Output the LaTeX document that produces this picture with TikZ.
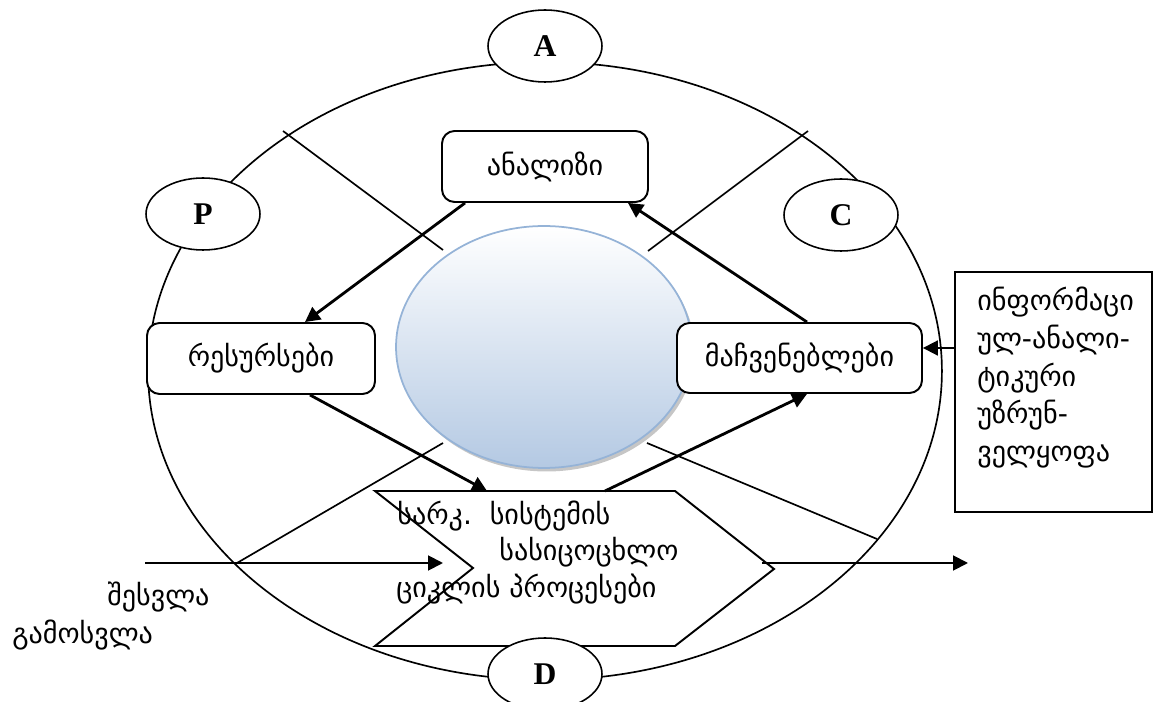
\documentclass[tikz,border=0pt]{standalone}
\usepackage{fontspec}
\setmainfont{Liberation Serif}
\newfontfamily\geo{DejaVu Sans}
\usetikzlibrary{arrows.meta, shapes.geometric, shadows}

\definecolor{coreedge}{RGB}{149,179,215}
\definecolor{corefill}{RGB}{180,201,227}

\begin{document}
\begin{tikzpicture}[x=0.02cm, y=-0.02cm,
        lbl/.style={ellipse, draw, line width=0.9pt, fill=white, minimum width=2.28cm,
                    minimum height=1.44cm, inner sep=0pt, font=\fontsize{18}{18}\selectfont\bfseries},
        procbox/.style={rectangle, rounded corners=0.25cm, draw, line width=1.1pt, fill=white,
                    minimum height=1.42cm, font=\geo\fontsize{16}{20}\selectfont},
        txt/.style={font=\geo\fontsize{16}{21.4}\selectfont, inner sep=0pt, anchor=base west},
        flow/.style={line width=1.6pt, -{Triangle[length=8.5pt, width=8.5pt]}},
        feed/.style={line width=1.1pt, -{Triangle[length=8.5pt, width=8.5pt]}},
        xline/.style={line width=0.95pt}]
      \useasboundingbox (0,0) rectangle (1154,702);

      % outer cycle and the cross behind the core
      \draw[line width=0.95pt] (545,371) ellipse [x radius=7.94cm, y radius=6.18cm];
      \draw[xline] (283,131) -- (443,250);
      \draw[xline] (808,131) -- (648,251);
      \draw[xline] (443,443) -- (237,563);
      \draw[xline] (647,443) -- (877,539);

      \node[ellipse, minimum width=5.92cm, minimum height=4.84cm, draw=coreedge, line width=1pt,
            top color=white, bottom color=corefill,
            drop shadow={shadow xshift=1.5pt, shadow yshift=-2pt, fill=black!50, opacity=0.45}]
            (core) at (544,347) {};

      % process chevron
      \draw[line width=1.1pt, fill=white] (375,491) -- (675,491) -- (774,569) -- (675,646)
            -- (375,646) -- (473,568) -- cycle;
      \coordinate (chin) at (487,491);
      \coordinate (chout) at (605,491);
      \coordinate (chtip) at (762,563);
      \node[txt] (pr1) at (397,525) {სარკ.\ \ სისტემის};
      \node[txt] (pr2) at (499,561) {სასიცოცხლო};
      \node[txt] (pr3) at (396,598) {ციკლის პროცესები};

      \node[procbox, minimum width=4.12cm] (ana) at (545,166.5) {ანალიზი};
      \node[procbox, minimum width=4.56cm] (res) at (261,358.5) {რესურსები};
      \node[procbox, minimum width=4.9cm, minimum height=1.4cm] (ind) at (799.5,358) {მაჩვენებლები};

      \node[draw, line width=0.9pt, minimum width=3.94cm, minimum height=4.8cm, inner sep=0pt]
            (info) at (1053.5,392) {};
      \node[font=\geo\fontsize{16}{21.4}\selectfont, align=left, inner sep=0pt, anchor=north west]
            (infotxt) at (977,287) {ინფორმაცი\\ულ-ანალი-\\ტიკური\\უზრუნ-\\ველყოფა};

      \node[lbl] (A) at (545,46) {A};
      \node[lbl] (P) at (203,214) {P};
      \node[lbl] (C) at (841,215) {C};
      \node[lbl] (D) at (545,674) {D};

      \draw[flow] ([xshift=-1.6cm]ana.south) -- ([xshift=0.88cm]res.north);
      \draw[flow] ([xshift=0.98cm]res.south) -- (chin);
      \draw[flow] (chout) -- ([xshift=0.15cm]ind.south);
      \draw[flow] ([xshift=0.15cm]ind.north) -- ([xshift=1.66cm]ana.south);
      \draw[feed] ([yshift=0.88cm]info.west) -- ([yshift=0.2cm]ind.east);

      % input and output
      \coordinate (inA) at (145,563);
      \coordinate (inB) at (443,563);
      \coordinate (outB) at (968,563);
      \draw[feed] (inA) -- (inB);
      \draw[feed] (chtip) -- (outB);
      \node[txt] (inlbl) at (107,606) {შესვლა};
      \node[txt] (outlbl) at (12,643) {გამოსვლა};
    \end{tikzpicture}
\end{document}
